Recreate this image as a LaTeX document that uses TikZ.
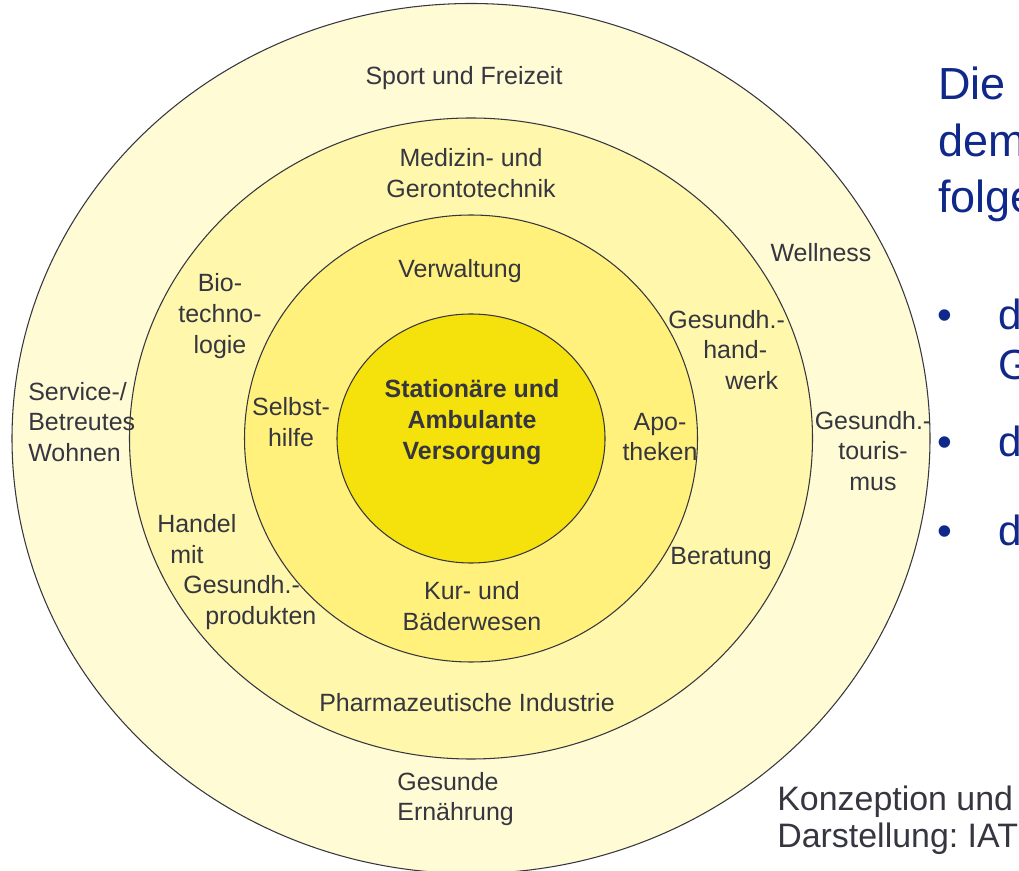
\documentclass[tikz,border=0pt]{standalone}
\usepackage{fontspec}
\setmainfont{Liberation Sans}
\usepackage{tikz}
\usetikzlibrary{positioning}
\usepackage{xcolor}
\definecolor{ringOut}{HTML}{FFFBD5}
\definecolor{ringMid}{HTML}{FFF7AC}
\definecolor{ringIn}{HTML}{FFF17C}
\definecolor{kernel}{HTML}{F5E10C}
\definecolor{labgray}{HTML}{35363F}
\definecolor{slideblue}{HTML}{0F2889}

\begin{document}
\begin{tikzpicture}[
  ring/.style={draw=labgray, line width=0.6pt},
  lab/.style={text=labgray, font=\fontsize{14.2}{17.5}\selectfont,
              align=center, inner sep=0pt},
  labL/.style={lab, align=left, anchor=west},
  head/.style={text=slideblue, font=\fontsize{25.6}{32}\selectfont,
               inner sep=0pt, anchor=base west},
  item/.style={text=slideblue, font=\fontsize{24}{28}\selectfont,
               inner sep=0pt, anchor=base west},
  note/.style={text=labgray, font=\fontsize{19.3}{21}\selectfont,
               inner sep=0pt, anchor=base west}]

\useasboundingbox (0,0) rectangle (20.38,17.4);

\coordinate (C) at (9.42,8.63);

% rings from outside to inside
\foreach \idx/\rx/\ry/\col in {
  1/9.18/8.70/ringOut,
  2/6.83/6.41/ringMid,
  3/4.53/4.47/ringIn,
  4/2.68/2.49/kernel}{
  \draw[ring, fill=\col] (C) ellipse [x radius=\rx cm, y radius=\ry cm];
}

% core
\node[lab, font=\fontsize{14.2}{17.5}\selectfont\bfseries] (core) at (9.44,8.96)
  {Stationäre und\\Ambulante\\Versorgung};

% third ring
\node[lab] (verw)  at (9.20,11.98) {Verwaltung};
\node[lab] (selbst) at (5.82,8.96) {Selbst-\\hilfe};
\node[lab] (apo)   at (13.20,8.66) {Apo-\\theken};
\node[lab] (kur)   at (9.44,5.28) {Kur- und\\Bäderwesen};

% second ring
\node[lab] (medtech) at (9.42,13.94) {Medizin- und\\Gerontotechnik};
\node[lab] (bio)     at (4.40,11.08) {Bio-\\techno-\\logie};
\node[labL] (handwerk) at (13.36,10.40)
  {Gesundh.-\\\hspace*{0.70cm}hand-\\\hspace*{1.14cm}werk};
\node[lab] (berat)   at (14.42,6.22) {Beratung};
\node[labL] (handel) at (3.14,5.96)
  {Handel\\\hspace*{0.26cm}mit\\\hspace*{0.52cm}Gesundh.-\\\hspace*{0.96cm}produkten};
\node[lab] (pharma)  at (9.34,3.34) {Pharmazeutische Industrie};

% outer ring
\node[lab] (sport)   at (9.28,15.84) {Sport und Freizeit};
\node[lab] (well)    at (16.42,12.34) {Wellness};
\node[lab] (tour)    at (17.46,8.38) {Gesundh.-\\touris-\\mus};
\node[labL] (wohnen) at (0.56,8.96) {Service-/\\Betreutes\\Wohnen};
\node[labL] (ernaehr) at (7.94,1.42) {Gesunde\\Ernährung};

% slide text on the right
\node[head] (h1) at (18.76,15.40) {Die};
\node[head] (h2) at (18.76,14.26) {dem};
\node[head] (h3) at (18.76,13.14) {folge};

\node[item] (dot1) at (18.74,10.80) {•};
\node[item] (i1) at (19.96,10.80) {d};
\node[item] (i1b) at (19.96,9.80) {G};
\node[item] (dot2) at (18.74,8.26) {•};
\node[item] (i2) at (19.96,8.26) {d};
\node[item] (dot3) at (18.74,6.50) {•};
\node[item] (i3) at (19.96,6.50) {d};

\node[note] (konz) at (15.54,1.20) {Konzeption und};
\node[note] (darst) at (15.54,0.46) {Darstellung:\ IAT};

\end{tikzpicture}
\end{document}
